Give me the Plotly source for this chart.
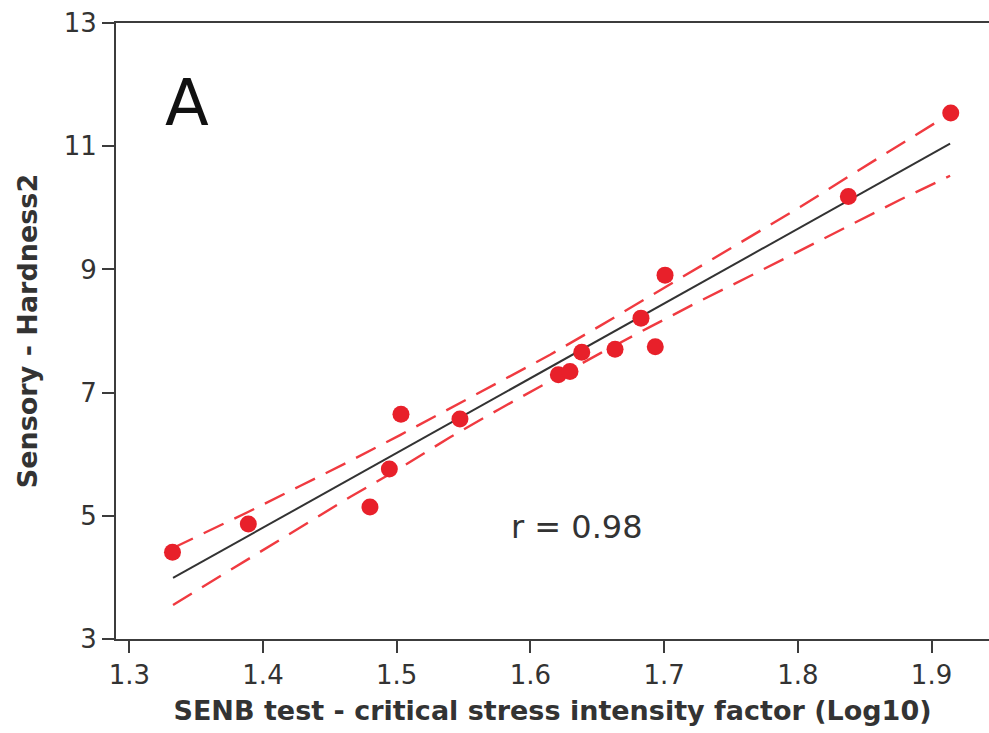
import plotly.graph_objects as go

# Observed data points
obs_x = [1.3323, 1.3890, 1.4800, 1.4945, 1.5032, 1.5473, 1.6209, 1.6296,
         1.6384, 1.6633, 1.6827, 1.6934, 1.7007, 1.8378, 1.9144]
obs_y = [4.408, 4.868, 5.144, 5.761, 6.650, 6.573, 7.288, 7.341,
         7.656, 7.705, 8.209, 7.743, 8.907, 10.184, 11.538]

# Fitted line and confidence band
fit_x = [1.3327, 1.3888, 1.4277, 1.4651, 1.5025, 1.5399, 1.5773, 1.6147,
         1.6521, 1.6895, 1.7269, 1.7643, 1.8017, 1.8391, 1.8765, 1.9139]
fit_y = [3.991, 4.671, 5.142, 5.597, 6.050, 6.503, 6.958, 7.411,
         7.864, 8.319, 8.772, 9.225, 9.679, 10.133, 10.586, 11.040]
upper_y = [4.478, 5.061, 5.483, 5.889, 6.310, 6.747, 7.177, 7.614,
           8.083, 8.563, 9.040, 9.525, 10.012, 10.523, 11.025, 11.527]
lower_y = [3.552, 4.297, 4.817, 5.305, 5.774, 6.276, 6.739, 7.192,
           7.637, 8.067, 8.488, 8.892, 9.305, 9.727, 10.131, 10.520]

x_ticks = [1.3, 1.4, 1.5, 1.6, 1.7, 1.8, 1.9]
y_ticks = [3, 5, 7, 9, 11, 13]

RED = "#e8202a"
DASH_RED = "#f03a40"
AX = "#3c3c3c"
FONT = "DejaVu Sans"

fig = go.Figure()
fig.add_trace(go.Scatter(x=fit_x, y=upper_y, mode="lines",
                         line=dict(color=DASH_RED, width=2.4, dash="22px,12px"),
                         hoverinfo="skip"))
fig.add_trace(go.Scatter(x=fit_x, y=lower_y, mode="lines",
                         line=dict(color=DASH_RED, width=2.4, dash="22px,12px"),
                         hoverinfo="skip"))
fig.add_trace(go.Scatter(x=fit_x, y=fit_y, mode="lines",
                         line=dict(color="#333333", width=2)))
fig.add_trace(go.Scatter(x=obs_x, y=obs_y, mode="markers",
                         marker=dict(color=RED, size=17, line=dict(width=0))))

fig.add_annotation(x=1.3435, y=11.705, xref="x", yref="y", text="A",
                   showarrow=False, font=dict(family=FONT, size=64, color="#111111"))
fig.add_annotation(x=1.6346, y=4.819, xref="x", yref="y", text="r = 0.98",
                   showarrow=False, font=dict(family=FONT, size=32, color="#333333"))

fig.update_layout(
    width=989, height=733,
    margin=dict(l=116, r=0, t=23, b=94),
    paper_bgcolor="white", plot_bgcolor="white",
    showlegend=False,
    font=dict(family=FONT, color="#333333"),
    xaxis=dict(range=[1.29005, 1.9430], tickvals=x_ticks,
               ticktext=[f"{v:.1f}" for v in x_ticks],
               showgrid=False, zeroline=False,
               showline=True, linecolor=AX, linewidth=2, mirror=True,
               ticks="outside", ticklen=12, tickwidth=2, tickcolor=AX,
               tickfont=dict(family=FONT, size=26, color="#333333"),
               title=dict(text="<b>SENB test - critical stress intensity factor (Log10)</b>",
                          font=dict(family=FONT, size=27, color="#333333"),
                          standoff=12)),
    yaxis=dict(range=[3, 13], tickvals=y_ticks,
               showgrid=False, zeroline=False,
               showline=True, linecolor=AX, linewidth=2,
               ticks="outside", ticklen=12, tickwidth=2, tickcolor=AX,
               tickfont=dict(family=FONT, size=26, color="#333333"),
               title=dict(text="<b>Sensory - Hardness2</b>",
                          font=dict(family=FONT, size=27, color="#333333"),
                          standoff=18)),
)

fig.write_html("out.html")
